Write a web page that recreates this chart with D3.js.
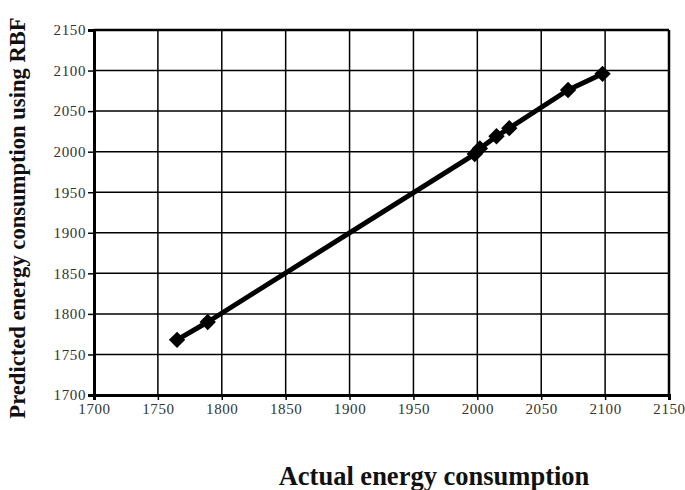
<!DOCTYPE html>
<html><head><meta charset="utf-8">
<script src="https://cdn.jsdelivr.net/npm/d3@7"></script>
<style>body{margin:0;background:#fff}svg{display:block}</style>
</head><body>
<script>
const actual = [1765, 1789, 1998, 2002, 2015, 2025, 2071, 2098];
const predicted = [1768, 1790, 1997, 2004, 2019, 2029, 2076, 2096];
const xTicks = [1700,1750,1800,1850,1900,1950,2000,2050,2100,2150];
const yTicks = [1700,1750,1800,1850,1900,1950,2000,2050,2100,2150];
const xTitle = "Actual energy consumption";
const yTitle = "Predicted energy consumption using RBF";

const W = 685, H = 490;
const L = 94, R = 669, T = 30, B = 395;
const serif = "'Liberation Serif', 'Times New Roman', serif";
const svg = d3.select("body").append("svg").attr("width", W).attr("height", H);
const x = d3.scaleLinear().domain([1700, 2150]).range([L, R]);
const y = d3.scaleLinear().domain([1700, 2150]).range([B, T]);

// grid
svg.append("g").selectAll("line").data(xTicks.slice(1, -1)).join("line")
  .attr("x1", d => x(d)).attr("x2", d => x(d)).attr("y1", T).attr("y2", B)
  .attr("stroke", "#000").attr("stroke-width", 1.5);
svg.append("g").selectAll("line").data(yTicks.slice(1, -1)).join("line")
  .attr("y1", d => y(d)).attr("y2", d => y(d)).attr("x1", L).attr("x2", R)
  .attr("stroke", "#000").attr("stroke-width", 1.5);

// frame
svg.append("line").attr("x1", L).attr("x2", R).attr("y1", T).attr("y2", T).attr("stroke", "#000").attr("stroke-width", 2.5);
svg.append("line").attr("x1", R).attr("x2", R).attr("y1", T).attr("y2", B).attr("stroke", "#000").attr("stroke-width", 2.5);

// axes
const xAxis = svg.append("g").attr("transform", `translate(0,${B})`)
  .call(d3.axisBottom(x).tickValues(xTicks).tickSize(5).tickFormat(d3.format("d")));
const yAxis = svg.append("g").attr("transform", `translate(${L},0)`)
  .call(d3.axisLeft(y).tickValues(yTicks).tickSize(6).tickFormat(d3.format("d")));
[xAxis, yAxis].forEach(g => {
  g.select(".domain").attr("stroke", "#000").attr("stroke-width", 3);
  g.selectAll(".tick line").attr("stroke", "#000").attr("stroke-width", 1.5);
  g.selectAll(".tick text").attr("fill", "#333").style("font-family", serif).style("font-size", "15px").style("letter-spacing", "0.6px");
});
xAxis.selectAll(".tick text").attr("dy", "0.95em").attr("y", 5);
yAxis.selectAll(".tick text").attr("x", -8);

// line
const pts = actual.map((a, i) => [a, predicted[i]]);
svg.append("path").datum(pts)
  .attr("d", d3.line().x(d => x(d[0])).y(d => y(d[1])))
  .attr("fill", "none").attr("stroke", "#000").attr("stroke-width", 5).attr("stroke-linejoin", "round");

svg.append("g").selectAll("path").data(pts).join("path")
  .attr("transform", d => `translate(${x(d[0])},${y(d[1])})`)
  .attr("d", d3.symbol(d3.symbolDiamond2, 170)())
  .attr("fill", "#000");

// titles
svg.append("text").attr("x", 434).attr("y", 485).attr("text-anchor", "middle")
  .style("font-family", serif).style("font-size", "26.5px").style("font-weight", "bold")
  .attr("fill", "#111").text(xTitle);
svg.append("text").attr("transform", "translate(25,218) rotate(-90)").attr("text-anchor", "middle")
  .style("font-family", serif).style("font-size", "22.6px").style("font-weight", "bold")
  .attr("fill", "#111").text(yTitle);
</script>
</body></html>
